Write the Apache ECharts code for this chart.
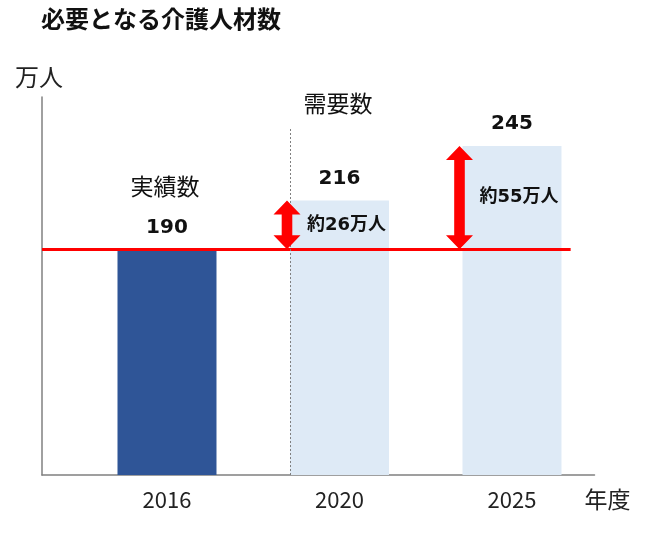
<!DOCTYPE html>
<html><head><meta charset="utf-8">
<script src="https://cdn.jsdelivr.net/npm/echarts@6/dist/echarts.min.js"></script>
<style>html,body{margin:0;padding:0;background:#fff}#c{width:650px;height:533px}</style>
</head><body><div id="c"></div>
<script>
const TITLE = '必要となる介護人材数';
const YEARS = ['2016', '2020', '2025'];
const VALUES = [190, 216, 245];
const GROUP_LABELS = ['実績数', '需要数'];
const Y_UNIT = '万人';
const X_UNIT = '年度';

const JP = '"Noto Sans CJK JP", "Noto Sans", sans-serif';
const NUM_BOLD = '"DejaVu Sans", "Noto Sans CJK JP", sans-serif';
const BAR_W = 99;
const X_MIN = -0.7246, X_MAX = 2.4783;
const DARK = '#2F5597', LIGHT = '#DEEAF6', RED = '#FF0000', AXIS = '#808080';

const barData = VALUES.map((v, i) => ({
  value: [i, v],
  itemStyle: { color: i === 0 ? DARK : LIGHT }
}));
const gapData = VALUES.slice(1).map((v, i) => [i + 1, VALUES[0], v]);

const chart = echarts.init(document.getElementById('c'), null, { renderer: 'canvas' });
chart.setOption({
  animation: false,
  backgroundColor: '#fff',
  title: {
    text: TITLE, left: 41, top: 7, padding: 0,
    textStyle: { fontFamily: JP, fontSize: 24, fontWeight: 'bold', color: '#111' }
  },
  grid: { left: 42, right: 55.5, top: 97, bottom: 58 },
  xAxis: {
    type: 'value', min: X_MIN, max: X_MAX,
    name: X_UNIT, nameLocation: 'end', nameGap: -10,
    nameTextStyle: { fontFamily: JP, fontSize: 23, color: '#222', verticalAlign: 'top', padding: [13, 0, 0, 0] },
    axisLine: { show: true, onZero: false, lineStyle: { color: AXIS, width: 1.5 } },
    axisTick: { show: false },
    splitLine: { show: false },
    axisLabel: {
      customValues: [0, 1, 2],
      formatter: v => YEARS[Math.round(v)],
      margin: 14, fontFamily: JP, fontSize: 22, color: '#222'
    }
  },
  yAxis: {
    type: 'value', min: 70, max: 271,
    name: Y_UNIT, nameLocation: 'end', nameGap: 8,
    nameTextStyle: { fontFamily: JP, fontSize: 24, color: '#222', padding: [0, 6, 0, 0] },
    axisLine: { show: true, onZero: false, lineStyle: { color: AXIS, width: 1.5 } },
    axisTick: { show: false },
    splitLine: { show: false },
    axisLabel: { show: false }
  },
  graphic: [
    { type: 'text', x: 165, y: 186, z: 10,
      style: { text: GROUP_LABELS[0], align: 'center', verticalAlign: 'middle', fontFamily: JP, fontSize: 23, fill: '#111' } },
    { type: 'text', x: 338, y: 103, z: 10,
      style: { text: GROUP_LABELS[1], align: 'center', verticalAlign: 'middle', fontFamily: JP, fontSize: 23, fill: '#111' } }
  ],
  series: [
    {
      type: 'bar',
      data: barData,
      barWidth: BAR_W,
      z: 2,
      label: {
        show: true, position: 'top', distance: 12,
        formatter: p => String(p.value[1]),
        fontFamily: NUM_BOLD, fontSize: 20, fontWeight: 'bold', color: '#111'
      },
      markLine: {
        silent: true, symbol: 'none', z: 3,
        label: { show: false },
        data: [
          [{ coord: [X_MIN, VALUES[0]], lineStyle: { color: RED, width: 3, type: 'solid' } },
           { coord: [2.34, VALUES[0]] }],
          [{ coord: [1 - BAR_W / 2 / 172.5, 70], lineStyle: { color: AXIS, width: 1, type: [2, 2] } },
           { coord: [1 - BAR_W / 2 / 172.5, 255] }]
        ]
      }
    },
    {
      type: 'custom',
      coordinateSystem: 'cartesian2d',
      data: gapData,
      encode: { x: 0, y: [1, 2] },
      z: 5,
      renderItem: function (params, api) {
        const idx = api.value(0), lo = api.value(1), hi = api.value(2);
        const pTop = api.coord([idx, hi]);
        const pBot = api.coord([idx, lo]);
        const x = pTop[0] - BAR_W / 2 - 3;
        const yt = pTop[1], yb = pBot[1];
        const hw = 13.5, hl = 14, sw = 5.3;
        const pts = [
          [x, yt], [x + hw, yt + hl], [x + sw, yt + hl], [x + sw, yb - hl], [x + hw, yb - hl],
          [x, yb], [x - hw, yb - hl], [x - sw, yb - hl], [x - sw, yt + hl], [x - hw, yt + hl]
        ];
        return {
          type: 'group',
          children: [
            { type: 'polygon', shape: { points: pts }, style: { fill: RED } },
            { type: 'text', x: x + 20, y: (yt + yb) / 2,
              style: { text: '約' + (hi - lo) + '万人', align: 'left', verticalAlign: 'middle',
                       fontFamily: NUM_BOLD, fontSize: 18, fontWeight: 'bold', fill: '#111' } }
          ]
        };
      }
    }
  ]
});
</script></body></html>
